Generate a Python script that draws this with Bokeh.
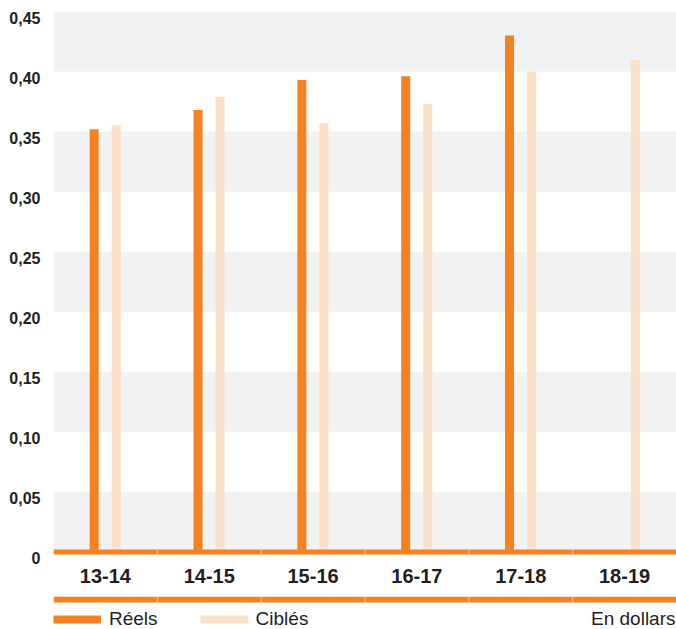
from bokeh.plotting import figure
from bokeh.models import (Range1d, FactorRange, LinearAxis, FixedTicker, Legend,
                          LegendItem, Label, ColumnDataSource)
from bokeh.transform import dodge
from bokeh.layouts import column
from bokeh.embed import file_html
from bokeh.resources import INLINE

# ---- data ----
categories = ["13-14", "14-15", "15-16", "16-17", "17-18", "18-19"]
reels_categories = ["13-14", "14-15", "15-16", "16-17", "17-18"]
reels = [0.352, 0.368, 0.393, 0.396, 0.430]
cibles = [0.355, 0.379, 0.357, 0.373, 0.400, 0.410]
y_ticks = [0.0, 0.05, 0.10, 0.15, 0.20, 0.25, 0.30, 0.35, 0.40, 0.45]
y_tick_labels = ["0", "0,05", "0,10", "0,15", "0,20", "0,25", "0,30", "0,35", "0,40", "0,45"]
band_bottoms = [0.0, 0.10, 0.20, 0.30, 0.40]
boundaries = [1, 2, 3, 4, 5]
series_names = ["Réels", "Ciblés"]
unit_note = "En dollars"

ORANGE = "#f58220"
PEACH = "#fde0c8"
BAND = "#f1f2f4"
SEP = "#fabf94"
TEXT = "#231f20"
FONT = "Liberation Sans"

xr = FactorRange(*categories, range_padding=0)

p = figure(x_range=xr, y_range=Range1d(-0.008, 0.45), width=676, height=596,
           output_backend="svg", toolbar_location=None, y_axis_location=None,
           min_border_left=53, min_border_right=0, min_border_top=11, min_border_bottom=35)
p.outline_line_color = None
p.xgrid.visible = False
p.ygrid.visible = False
p.background_fill_color = "white"

# alternating background bands
p.hbar(y=[b + 0.025 for b in band_bottoms], left=0, right=len(categories), height=0.05,
       fill_color=BAND, line_color=None)

src_r = ColumnDataSource(dict(cat=reels_categories, val=reels))
src_c = ColumnDataSource(dict(cat=categories, val=cibles))
p.vbar(x=dodge("cat", -0.108, range=xr), top="val", bottom=0, width=0.087,
       source=src_r, fill_color=ORANGE, line_color=None)
p.vbar(x=dodge("cat", 0.104, range=xr), top="val", bottom=0, width=0.087,
       source=src_c, fill_color=PEACH, line_color=None)

# baseline
p.rect(x=categories, y=0, width=1, height=5, height_units="screen",
       fill_color=ORANGE, line_color=None)
p.rect(x=boundaries, y=0, width=1, width_units="screen", height=5, height_units="screen",
       fill_color=SEP, line_color=None)

# y axis (labels sit a little below their values)
off = 0.0054
p.extra_y_ranges = {"lab": Range1d(-0.008 + off, 0.45 + off)}
yax = LinearAxis(y_range_name="lab", ticker=FixedTicker(ticks=y_ticks),
                 major_label_overrides={t: l for t, l in zip(y_ticks, y_tick_labels)})
yax.axis_line_color = None
yax.major_tick_line_color = None
yax.minor_tick_line_color = None
yax.major_label_standoff = 7
yax.major_label_text_font = FONT
yax.major_label_text_font_size = "16px"
yax.major_label_text_font_style = "bold"
yax.major_label_text_color = TEXT
p.add_layout(yax, "left")

xax = p.xaxis[0]
xax.axis_line_color = None
xax.major_tick_line_color = None
xax.minor_tick_line_color = None
xax.major_label_standoff = 1
xax.major_label_text_font = FONT
xax.major_label_text_font_size = "20px"
xax.major_label_text_font_style = "bold"
xax.major_label_text_color = TEXT

# ---- bottom strip: rule + legend ----
p2 = figure(x_range=xr, y_range=Range1d(0, 1), width=676, height=33,
            output_backend="svg", toolbar_location=None, x_axis_location=None,
            y_axis_location=None, min_border_left=53, min_border_right=0,
            min_border_top=0, min_border_bottom=0)
p2.outline_line_color = None
p2.xgrid.visible = False
p2.ygrid.visible = False

p2.rect(x=categories, y=0.91, width=1, height=6, height_units="screen",
        fill_color=ORANGE, line_color=None)
p2.rect(x=boundaries, y=0.91, width=1, width_units="screen", height=6, height_units="screen",
        fill_color=SEP, line_color=None)

nan = float("nan")
r1 = p2.line(x=[0.0], y=[nan], line_color=ORANGE, line_width=8)
r2 = p2.line(x=[0.0], y=[nan], line_color=PEACH, line_width=8)
legend = Legend(items=[LegendItem(label=series_names[0], renderers=[r1]),
                       LegendItem(label=series_names[1], renderers=[r2])],
                orientation="horizontal", location=(0, -1),
                glyph_width=48, glyph_height=20, label_height=20, label_standoff=8,
                spacing=42, padding=0, margin=0, border_line_color=None,
                background_fill_alpha=0, label_text_font=FONT,
                label_text_font_size="19px", label_text_color=TEXT)
p2.add_layout(legend)

p2.add_layout(Label(x=len(categories), y=0.06, y_offset=9, text=unit_note, text_align="right",
                    text_baseline="alphabetic", x_offset=-1, text_font=FONT,
                    text_font_size="19px", text_color=TEXT))

layout = column(p, p2, spacing=0)
open("out.html", "w").write(file_html(layout, INLINE))
